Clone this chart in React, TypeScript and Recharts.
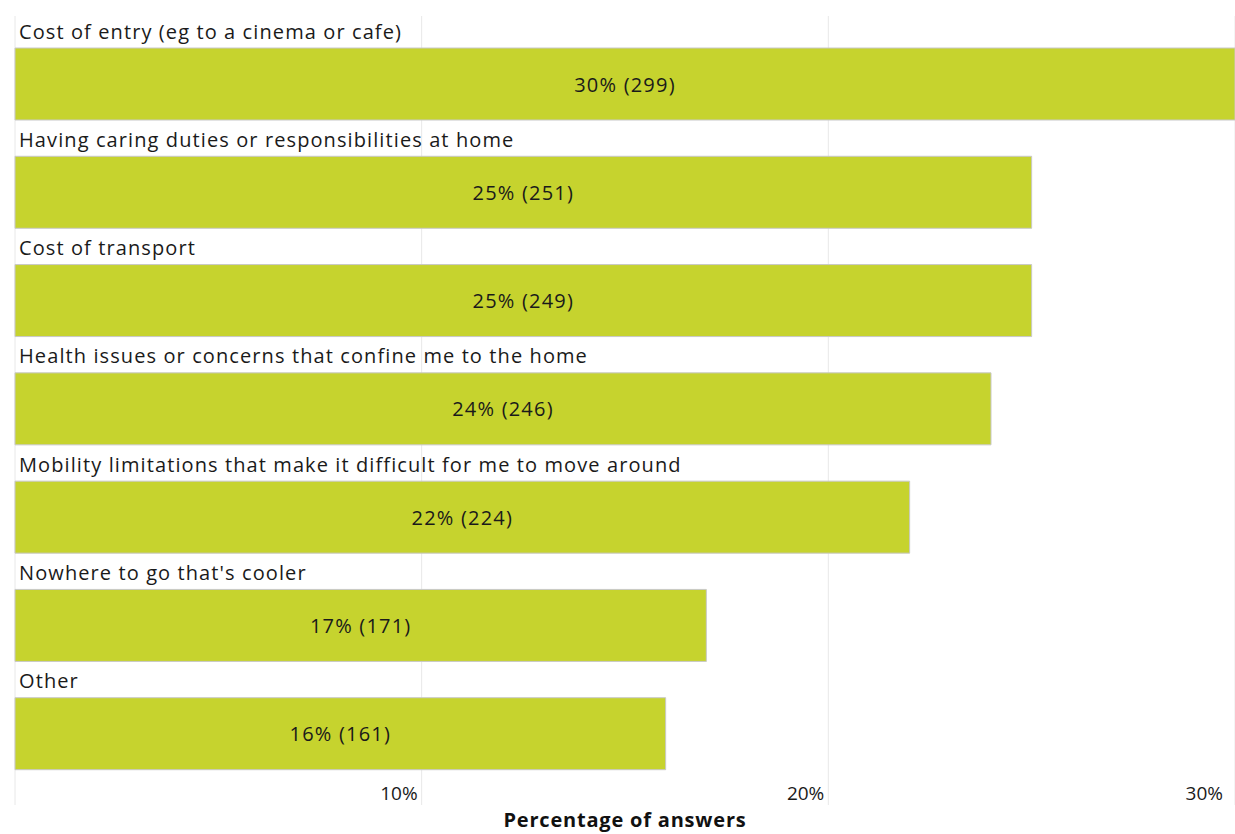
import React from "react";
import { BarChart, Bar, XAxis, YAxis, CartesianGrid, LabelList } from "recharts";

const categories = [
  "Cost of entry (eg to a cinema or cafe)",
  "Having caring duties or responsibilities at home",
  "Cost of transport",
  "Health issues or concerns that confine me to the home",
  "Mobility limitations that make it difficult for me to move around",
  "Nowhere to go that's cooler",
  "Other",
];
const percents = [30, 25, 25, 24, 22, 17, 16];
const counts = [299, 251, 249, 246, 224, 171, 161];
const xTicks = [10, 20, 30];

const data = categories.map((c, i) => ({ name: c, pct: percents[i], count: counts[i] }));

const FONT = "'Open Sans', 'Noto Sans', sans-serif";
const BAR_COLOR = "#c6d32e";

const CategoryLabel = (props: any) => {
  const { x, y, index } = props;
  return (
    <text x={x + 4} y={y - 17} dominantBaseline="central" fontSize={20} letterSpacing={1.1} fill="#1a1a1a" fontFamily={FONT}>
      {categories[index]}
    </text>
  );
};

const ValueLabel = (props: any) => {
  const { x, y, width, height, index } = props;
  return (
    <text x={x + width / 2} y={y + height / 2} textAnchor="middle" dominantBaseline="central" fontSize={20} letterSpacing={1.2} fill="#1a1a1a" fontFamily={FONT}>
      {`${percents[index]}% (${counts[index]})`}
    </text>
  );
};

const XTick = (props: any) => {
  const { x, y, payload } = props;
  return (
    <text x={x - 4} y={y - 20} textAnchor="end" dominantBaseline="central" fontSize={19} fill="#1a1a1a" fontFamily={FONT}>
      {`${payload.value}%`}
    </text>
  );
};

export default function App() {
  return (
    <div style={{ position: "absolute", left: 0, top: 0, width: 1235, height: 834, background: "#fff", overflow: "hidden" }}>
      <BarChart
        width={1235}
        height={834}
        data={data}
        layout="vertical"
        margin={{ top: 16, right: 0, bottom: 0, left: 15 }}
        barSize={72}
      >
        <CartesianGrid horizontal={false} stroke="#e8e8e8" />
        <XAxis
          type="number"
          domain={[0, 30]}
          ticks={xTicks}
          axisLine={false}
          tickLine={false}
          tick={<XTick />}
          height={29}
          label={{
            value: "Percentage of answers",
            position: "insideBottom",
            offset: 7,
            style: { fontSize: 20, fontWeight: 700, fill: "#111", fontFamily: FONT, letterSpacing: 0.8 },
          }}
        />
        <YAxis
          type="category"
          dataKey="name"
          width={0}
          tick={false}
          tickLine={false}
          axisLine={{ stroke: "#aaaaaa", strokeWidth: 1.5 }}
          padding={{ top: 14, bottom: 17 }}
        />
        <Bar dataKey="pct" fill={BAR_COLOR} stroke="#c8c8c8" strokeWidth={1} isAnimationActive={false}>
          <LabelList dataKey="pct" content={<CategoryLabel />} />
          <LabelList dataKey="pct" content={<ValueLabel />} />
        </Bar>
      </BarChart>
    </div>
  );
}
